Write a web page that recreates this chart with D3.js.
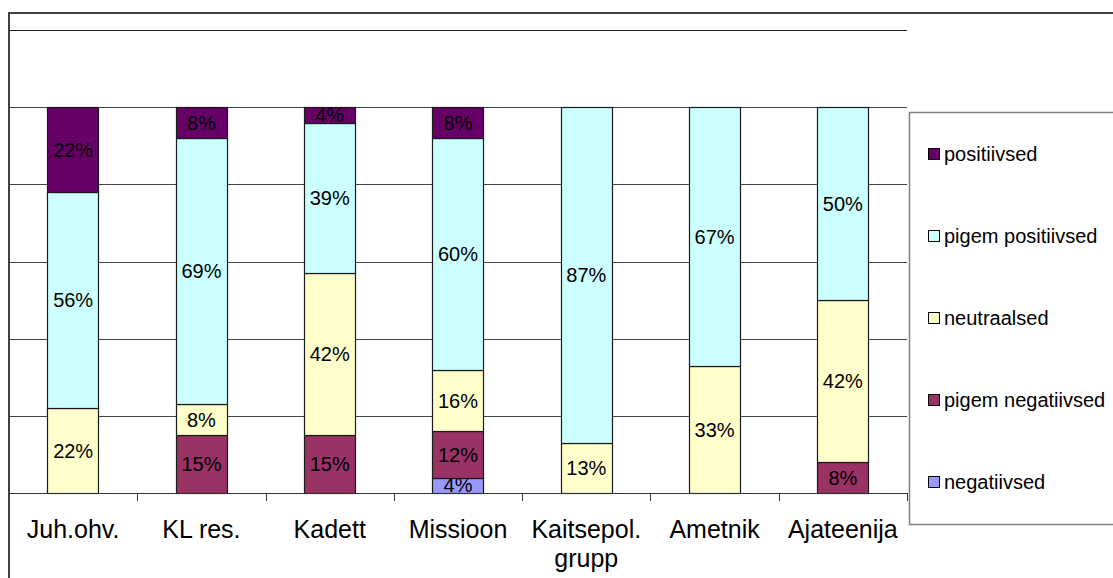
<!DOCTYPE html>
<html>
<head>
<meta charset="utf-8">
<script src="https://cdn.jsdelivr.net/npm/d3@7"></script>
<style>
  body { margin: 0; background: #fff; }
  svg { display: block; font-family: "Liberation Sans", Arial, sans-serif; }
</style>
</head>
<body>
<svg id="chart" width="1113" height="578"></svg>
<script>
/* data, in percent */
var categories = ["Juh.ohv.", "KL res.", "Kadett", "Missioon", "Kaitsepol.\ngrupp", "Ametnik", "Ajateenija"];
var seriesNames = ["negatiivsed", "pigem negatiivsed", "neutraalsed", "pigem positiivsed", "positiivsed"];
var negatiivsed       = [0, 0, 0, 4, 0, 0, 0];
var pigemNegatiivsed  = [0, 15, 15, 12, 0, 0, 8];
var neutraalsed       = [22, 8, 42, 16, 13, 33, 42];
var pigemPositiivsed  = [56, 69, 39, 60, 87, 67, 50];
var positiivsed       = [22, 8, 4, 8, 0, 0, 0];
var colors = ["#9999ff", "#993366", "#ffffcc", "#ccffff", "#660066"];
var yTicks = [0, 20, 40, 60, 80, 100, 120];

var values = [negatiivsed, pigemNegatiivsed, neutraalsed, pigemPositiivsed, positiivsed];

/* build rows for d3.stack */
var rows = categories.map(function(c, i) {
  var r = {cat: c};
  seriesNames.forEach(function(s, j) { r[s] = values[j][i]; });
  return r;
});

var svg = d3.select("#chart");

var x = d3.scaleBand()
    .domain(categories)
    .range([9, 907])
    .paddingInner(0.6)
    .paddingOuter(0.3);

var xBand = d3.scaleBand()
    .domain(categories)
    .range([9, 907]);

var y = d3.scaleLinear()
    .domain([0, 120])
    .range([493, 30]);

/* chart border */
svg.append("rect")
    .attr("x", 9).attr("y", 13)
    .attr("width", 1120).attr("height", 580)
    .attr("fill", "none")
    .attr("stroke", "#404040")
    .attr("stroke-width", 2);

/* gridlines */
svg.append("g")
  .selectAll("line")
  .data(yTicks.slice(1))
  .join("line")
    .attr("x1", 9).attr("x2", 907)
    .attr("y1", function(d) { return Math.round(y(d)) + 0.5; })
    .attr("y2", function(d) { return Math.round(y(d)) + 0.5; })
    .attr("stroke", function(d) { return d === 120 ? "#222" : "#444"; })
    .attr("stroke-width", 1);

var stack = d3.stack().keys(seriesNames);
var stacked = stack(rows);

var layers = svg.append("g")
  .selectAll("g")
  .data(stacked)
  .join("g")
    .attr("fill", function(d, i) { return colors[i]; });

layers.selectAll("rect")
  .data(function(d) { return d.filter(function(p) { return p[1] - p[0] > 0; }); })
  .join("rect")
    .attr("x", function(d) { return Math.round(x(d.data.cat)) + 0.5; })
    .attr("y", function(d) { return Math.round(y(d[1])) + 0.5; })
    .attr("width", Math.round(x.bandwidth()))
    .attr("height", function(d) { return Math.round(y(d[0])) - Math.round(y(d[1])); })
    .attr("stroke", "#1a1a1a")
    .attr("stroke-width", 1.2);

/* data labels, clipped to 0..100% */
svg.append("clipPath")
    .attr("id", "plotclip")
  .append("rect")
    .attr("x", 9).attr("y", y(100))
    .attr("width", 898).attr("height", y(0) - y(100));

var labels = svg.append("g").attr("clip-path", "url(#plotclip)");
stacked.forEach(function(layer) {
  layer.forEach(function(p) {
    if (p[1] - p[0] <= 0) return;
    labels.append("text")
        .attr("x", x(p.data.cat) + x.bandwidth() / 2)
        .attr("y", (y(p[0]) + y(p[1])) / 2)
        .attr("dy", "0.36em")
        .attr("text-anchor", "middle")
        .attr("font-size", 20)
        .attr("fill", "#000")
        .text((p[1] - p[0]) + "%");
  });
});

/* x axis */
svg.append("line")
    .attr("x1", 9).attr("x2", 907)
    .attr("y1", 493.5).attr("y2", 493.5)
    .attr("stroke", "#333");

svg.append("g")
  .selectAll("line")
  .data(categories.slice(1).concat(["end"]))
  .join("line")
    .attr("x1", function(d) { return d === "end" ? 907.5 : Math.round(xBand(d)) + 0.5; })
    .attr("x2", function(d) { return d === "end" ? 907.5 : Math.round(xBand(d)) + 0.5; })
    .attr("y1", 493).attr("y2", 501)
    .attr("stroke", "#333");

var catLabels = svg.append("g")
  .selectAll("text")
  .data(categories)
  .join("text")
    .attr("x", function(d) { return xBand(d) + xBand.bandwidth() / 2; })
    .attr("y", 538)
    .attr("text-anchor", "middle")
    .attr("font-size", 25)
    .attr("fill", "#000");

catLabels.selectAll("tspan")
  .data(function(d) { return d.split("\n"); })
  .join("tspan")
    .attr("x", function() { var t = this.parentNode; return t.getAttribute("x"); })
    .attr("dy", function(d, i) { return i === 0 ? 0 : 29; })
    .text(function(d) { return d; });

/* legend */
var legend = svg.append("g");
legend.append("rect")
    .attr("x", 909.5).attr("y", 112.5)
    .attr("width", 260).attr("height", 412)
    .attr("fill", "#fff")
    .attr("stroke", "#808080")
    .attr("stroke-width", 1.5);

var legendOrder = seriesNames.slice().reverse();
var legendY = d3.scalePoint()
    .domain(legendOrder)
    .range([154, 482]);

var items = legend.selectAll("g.item")
  .data(legendOrder)
  .join("g")
    .attr("class", "item")
    .attr("transform", function(d) { return "translate(928," + legendY(d) + ")"; });

items.append("rect")
    .attr("x", 0.5).attr("y", -5.5)
    .attr("width", 11).attr("height", 11)
    .attr("fill", function(d) { return colors[seriesNames.indexOf(d)]; })
    .attr("stroke", "#000");

items.append("text")
    .attr("x", 16)
    .attr("dy", "0.36em")
    .attr("font-size", 20)
    .attr("fill", "#000")
    .text(function(d) { return d; });
</script>
</body>
</html>
